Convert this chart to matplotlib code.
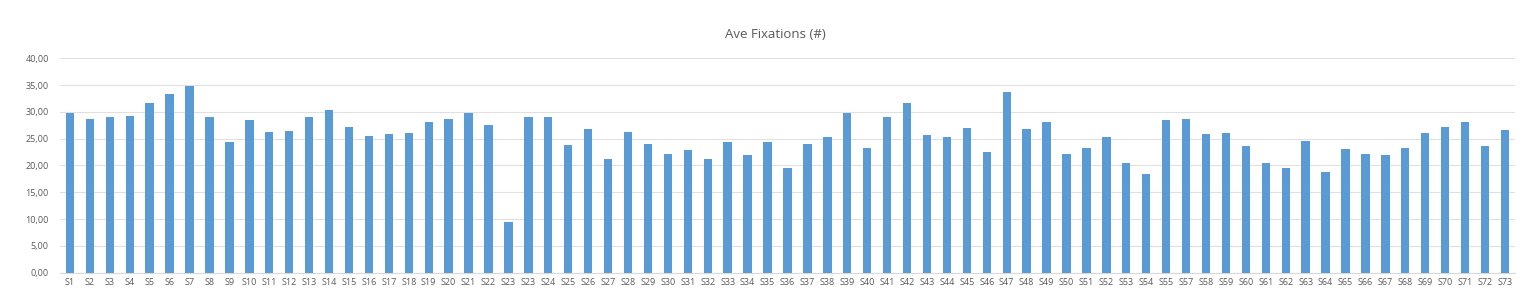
import matplotlib
matplotlib.use("Agg")
import matplotlib.pyplot as plt
from matplotlib.ticker import FuncFormatter, MultipleLocator

title = "Ave Fixations (#)"
labels = (["S%d" % i for i in range(1, 24)] + ["S23"] +
          ["S%d" % i for i in range(24, 56)] + ["S%d" % i for i in range(57, 74)])
values = [29.8, 28.6, 29.0, 29.2, 31.6, 33.3, 34.9, 29.0, 24.3, 28.5,
          26.2, 26.5, 29.1, 30.4, 27.2, 25.5, 25.8, 26.0, 28.1, 28.6,
          29.8, 27.6, 9.4, 29.1, 29.1, 23.8, 26.8, 21.2, 26.2, 24.0,
          22.1, 22.8, 21.3, 24.3, 22.0, 24.3, 19.6, 24.1, 25.4, 29.8,
          23.2, 29.1, 31.7, 25.7, 25.3, 27.0, 22.6, 33.7, 26.8, 28.2,
          22.1, 23.2, 25.4, 20.4, 18.4, 28.5, 28.7, 25.8, 26.0, 23.6,
          20.5, 19.5, 24.6, 18.7, 23.0, 22.2, 21.9, 23.2, 26.0, 27.1,
          28.1, 23.6, 26.6]

plt.rcParams['font.family'] = ['Open Sans', 'DejaVu Sans']
fig = plt.figure(figsize=(15.38, 3.02), dpi=100)
ax = fig.add_axes([0.039, 0.097, 0.946, 0.71])
x = list(range(len(values)))
ax.bar(x, values, width=0.42, color="#5B9BD5", zorder=3)
ax.set_xlim(-0.5, len(values) - 0.5)
ax.set_ylim(0, 40)
ax.yaxis.set_major_locator(MultipleLocator(5))
ax.yaxis.set_major_formatter(FuncFormatter(lambda v, p: ("%.2f" % v).replace(".", ",")))
ax.set_xticks(x)
ax.set_xticklabels(labels)
ax.tick_params(axis='both', length=0, labelsize=6.5, labelcolor="#595959")
ax.tick_params(axis='x', pad=4)
ax.tick_params(axis='y', pad=8)
ax.grid(axis='y', color="#E0E0E0", linewidth=0.8, zorder=0)
for s in ['top', 'right', 'left']:
    ax.spines[s].set_visible(False)
ax.spines['bottom'].set_color("#D9D9D9")
fig.text(0.504, 0.885, title, fontsize=9.5, color="#595959", ha='center', va='center')
fig.savefig("out.png", dpi=100)
